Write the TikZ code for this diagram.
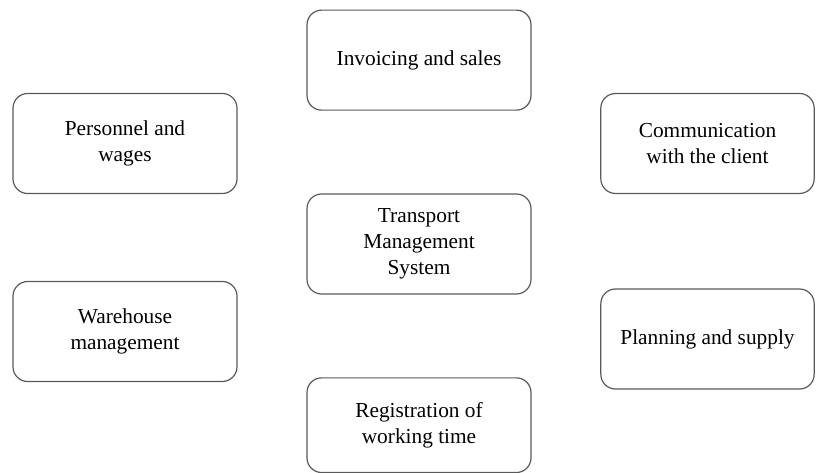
\documentclass[tikz,border=0pt]{standalone}
\usepackage{fontspec}
\setmainfont{Liberation Serif}
\usetikzlibrary{positioning}

\begin{document}
\begin{tikzpicture}[
        x=0.75pt, y=-0.75pt,
        box/.style={draw=black!65, line width=0.9pt, rounded corners=11pt,
                    minimum width=168pt, minimum height=75pt, align=center,
                    font=\fontsize{16}{19.5}\selectfont},
        side/.style={box, minimum width=160pt},
    ]
        \useasboundingbox (0,0) rectangle (816,473);

        % centre column
        \node[box] (tms) at (419,244) {Transport\\Management\\System};
        \node[box, above=62pt of tms] (inv) {Invoicing and sales};
        \node[box, minimum height=71pt, below=62pt of tms] (reg) {Registration of\\working time};

        % left column
        \node[box] (pers) at (125,143.5) {Personnel and\\wages};
        \node[box] (ware) at (125,331.5) {Warehouse\\management};

        % right column
        \node[side] (comm) at (707.5,143.5) {Communication\\with the client};
        \node[side] (plan) at (707.5,339) {Planning and supply};
    \end{tikzpicture}
\end{document}
